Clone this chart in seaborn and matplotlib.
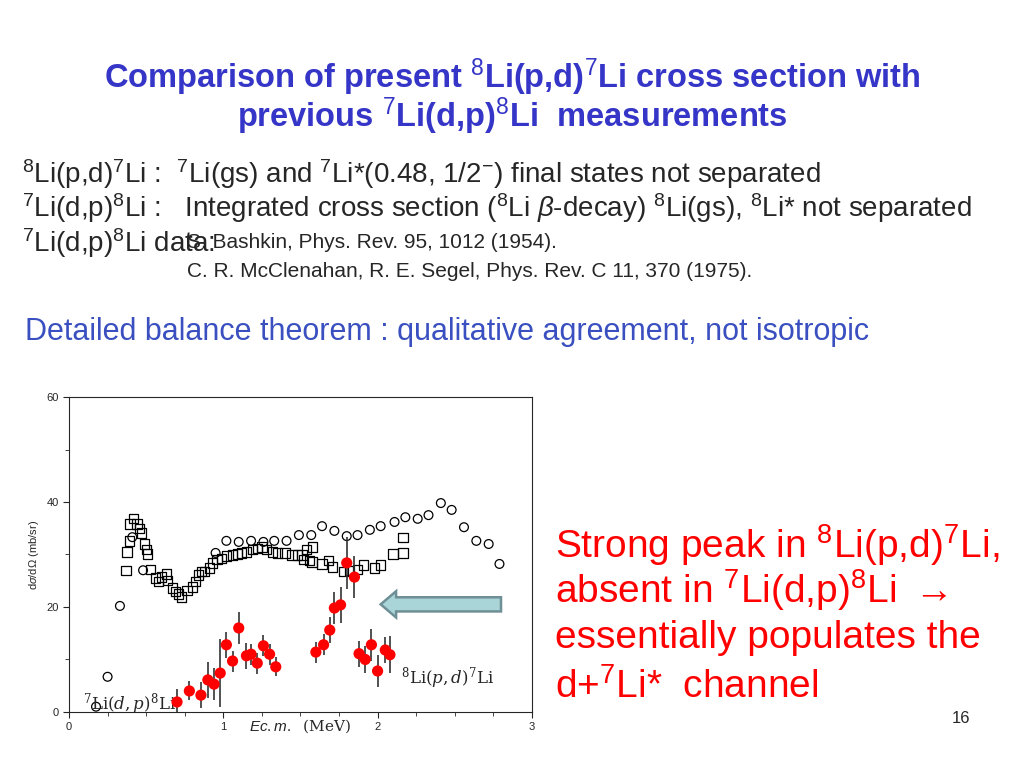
import numpy as np
import pandas as pd
import matplotlib.pyplot as plt
import seaborn as sns
from matplotlib.patches import FancyArrow

sns.set_style("ticks")
plt.rcParams['font.family'] = ['Liberation Sans', 'DejaVu Sans']
plt.rcParams['mathtext.fontset'] = 'custom'
plt.rcParams['mathtext.rm'] = 'Liberation Sans'
plt.rcParams['mathtext.it'] = 'Liberation Sans:italic'

# 8Li(p,d)7Li present data
pd_x = [0.70, 0.78, 0.855, 0.90, 0.94, 0.98, 1.02, 1.06, 1.10, 1.15, 1.18, 1.22, 1.26, 1.30, 1.34,
        1.60, 1.65, 1.69, 1.72, 1.76, 1.80, 1.85, 1.88, 1.92, 1.96, 2.00, 2.05, 2.08]
pd_y = [1.9, 4.0, 3.2, 6.1, 5.3, 7.4, 12.8, 9.7, 16.0, 10.7, 11.0, 9.3, 12.6, 11.0, 8.6,
        11.4, 12.8, 15.6, 19.8, 20.4, 28.4, 25.7, 11.1, 10.0, 12.8, 7.8, 11.8, 10.9]
pd_err = [2.5, 1.8, 2.5, 3.5, 3.0, 6.5, 2.5, 2.0, 3.0, 2.5, 2.0, 2.0, 2.0, 2.0, 1.8,
          2.0, 2.0, 2.5, 3.0, 3.5, 5.0, 4.0, 2.5, 2.5, 3.0, 3.0, 2.5, 3.5]

# 7Li(d,p)8Li, Bashkin (circles)
bash_x = [0.175, 0.25, 0.33, 0.41, 0.48, 0.95, 1.02, 1.10, 1.18, 1.26, 1.33, 1.41, 1.49, 1.57, 1.64,
          1.72, 1.80, 1.87, 1.95, 2.02, 2.11, 2.18, 2.26, 2.33, 2.41, 2.48, 2.56, 2.64, 2.72, 2.79]
bash_y = [1.0, 6.7, 20.2, 33.3, 27.0, 30.3, 32.6, 32.4, 32.6, 32.4, 32.6, 32.6, 33.7, 33.7, 35.4,
          34.5, 33.5, 33.7, 34.7, 35.4, 36.2, 37.1, 36.8, 37.5, 39.8, 38.5, 35.2, 32.6, 32.0, 28.2]

# 7Li(d,p)8Li, McClenahan & Segel (squares)
mcc_x = [0.37, 0.376, 0.39, 0.395, 0.42, 0.44, 0.455, 0.47, 0.49, 0.50, 0.51, 0.53, 0.56, 0.58, 0.60,
         0.63, 0.64, 0.67, 0.69, 0.71, 0.73, 0.765, 0.80, 0.82, 0.84, 0.86, 0.88, 0.91, 0.93, 0.96,
         0.99, 1.02, 1.06, 1.09, 1.12, 1.15, 1.19, 1.22, 1.25, 1.28, 1.32, 1.35, 1.40, 1.445, 1.48,
         1.51, 1.54, 1.56, 1.58, 1.52, 1.575, 1.64, 1.68, 1.71, 1.78, 1.82, 1.87, 1.91, 1.98, 2.02,
         2.10, 2.165, 2.165]
mcc_y = [26.9, 30.5, 32.6, 35.8, 36.8, 35.8, 35.0, 34.1, 32.0, 30.9, 30.1, 27.2, 25.5, 24.8, 25.7,
         26.3, 25.1, 23.6, 22.9, 22.5, 21.9, 23.2, 23.8, 24.8, 26.1, 26.7, 26.7, 27.4, 28.4, 29.0,
         29.3, 29.7, 29.9, 30.1, 30.3, 30.5, 30.9, 31.2, 31.4, 30.9, 30.5, 30.3, 30.3, 29.9, 29.9,
         29.9, 30.9, 28.8, 31.4, 29.0, 28.6, 28.2, 28.8, 27.6, 26.7, 26.9, 27.2, 28.0, 27.4, 28.0,
         30.1, 30.3, 33.3]

fig = plt.figure(figsize=(10.24, 7.68), dpi=100)
fig.patch.set_facecolor('white')

blue = '#3535c8'
fig.text(0.5, 0.900, r'Comparison of present $^{8}$Li(p,d)$^{7}$Li cross section with',
         ha='center', va='center', fontsize=23.5, fontweight='bold', color=blue)
fig.text(0.5, 0.848, r'previous $^{7}$Li(d,p)$^{8}$Li  measurements',
         ha='center', va='center', fontsize=23.5, fontweight='bold', color=blue)

fig.text(0.021, 0.773, r'$^{8}$Li(p,d)$^{7}$Li :  $^{7}$Li(gs) and $^{7}$Li*(0.48, 1/2$^{-}$) final states not separated',
         fontsize=20, va='center')
fig.text(0.021, 0.729, r'$^{7}$Li(d,p)$^{8}$Li :   Integrated cross section ($^{8}$Li $\beta$-decay) $^{8}$Li(gs), $^{8}$Li* not separated',
         fontsize=20, va='center')
fig.text(0.021, 0.684, r'$^{7}$Li(d,p)$^{8}$Li data:', fontsize=20, va='center')
fig.text(0.183, 0.684, 'S. Bashkin, Phys. Rev. 95, 1012 (1954).', fontsize=15, va='center')
fig.text(0.183, 0.646, 'C. R. McClenahan, R. E. Segel, Phys. Rev. C 11, 370 (1975).', fontsize=15, va='center')

fig.text(0.024, 0.568, 'Detailed balance theorem : qualitative agreement, not isotropic',
         fontsize=22, va='center', color='#3a4fc0')

red = '#ff0000'
for yy, s in [(0.290, r'Strong peak in $^{8}$Li(p,d)$^{7}$Li,'),
              (0.231, r'absent in $^{7}$Li(d,p)$^{8}$Li $\rightarrow$'),
              (0.169, 'essentially populates the'),
              (0.106, r'd+$^{7}$Li*  channel')]:
    fig.text(0.542, yy, s, fontsize=28, color=red, va='center')
fig.text(0.929, 0.065, '16', fontsize=12, va='center')

ax = fig.add_axes([0.0674, 0.073, 0.452, 0.410])
sns.scatterplot(x=bash_x, y=bash_y, ax=ax, marker='o', s=40, facecolor='none',
                edgecolor='black', linewidth=0.9)
sns.scatterplot(x=mcc_x, y=mcc_y, ax=ax, marker='s', s=45, facecolor='none',
                edgecolor='black', linewidth=0.9)
ax.errorbar(pd_x, pd_y, yerr=pd_err, fmt='none', ecolor='#333333', elinewidth=1.2, zorder=3)
sns.scatterplot(x=pd_x, y=pd_y, ax=ax, color=red, s=65, edgecolor='none', zorder=4)

ax.set_xlim(0, 3)
ax.set_ylim(0, 60)
ax.set_xticks([0, 1, 2, 3])
ax.set_xticks(np.arange(0, 3.01, 0.25), minor=True)
ax.set_yticks([0, 20, 40, 60])
ax.set_yticks([10, 30, 50], minor=True)
ax.tick_params(labelsize=8, direction='out', length=4)
ax.tick_params(which='minor', length=3)
for sp in ax.spines.values():
    sp.set_visible(True)
    sp.set_linewidth(0.8)
ax.set_ylabel(r'd$\sigma$/d$\Omega$ (mb/sr)', fontsize=8)
ax.text(0.5, -0.045, r'$Ec.m.$  (MeV)', transform=ax.transAxes, ha='center', va='center', fontsize=11,
        family='DejaVu Serif')
ax.text(0.09, 0.455, r'$^{7}$Li$(d,p)^{8}$Li', fontsize=12, family='DejaVu Serif',
        math_fontfamily='dejavuserif')
ax.text(2.15, 5.5, r'$^{8}$Li$(p,d)^{7}$Li', fontsize=12, family='DejaVu Serif',
        math_fontfamily='dejavuserif')

arr = FancyArrow(2.8, 20.5, -0.78, 0, width=2.7, head_width=5.0, head_length=0.1,
                 length_includes_head=True, facecolor='#a9d5d9', edgecolor='#6e8f96', linewidth=1.8)
ax.add_patch(arr)

fig.savefig('out.png', dpi=100)
